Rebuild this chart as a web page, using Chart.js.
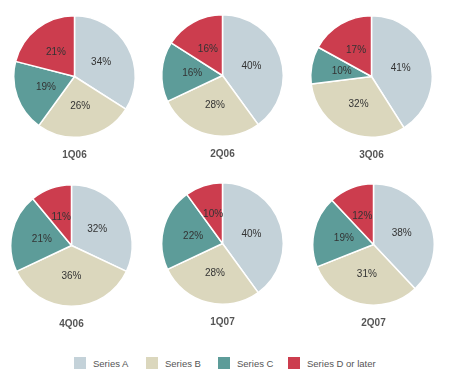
<!DOCTYPE html>
<html>
<head>
<meta charset="utf-8">
<script src="https://cdn.jsdelivr.net/npm/chart.js@4"></script>
<style>
  body { margin: 0; background: #fff; }
  #wrap { position: relative; width: 450px; height: 377px; overflow: hidden; }
  .pie { position: absolute; }
  #legend { position: absolute; left: 0; top: 357px; width: 450px; font: 9.5px "Liberation Sans", Arial, sans-serif; color: #555; }
  .item { position: absolute; top: 0; height: 13px; line-height: 13px; white-space: nowrap; }
  .box { display: inline-block; width: 12px; height: 12px; vertical-align: top; margin-right: 7px; }
</style>
</head>
<body>
<div id="wrap">
  <div id="legend"></div>
</div>
<script>
const quarters = ["1Q06", "2Q06", "3Q06", "4Q06", "1Q07", "2Q07"];
const seriesNames = ["Series A", "Series B", "Series C", "Series D or later"];
const seriesA = [34, 40, 41, 32, 40, 38];
const seriesB = [26, 28, 32, 36, 28, 31];
const seriesC = [19, 16, 10, 21, 22, 19];
const seriesD = [21, 16, 17, 11, 10, 12];
const colors = ["#c4d2d9", "#dbd7bd", "#5d9c99", "#cc3d4e"];

// pie centres in the page
const centres = [[74, 76], [222, 75], [371, 76], [71, 245], [222, 243], [373, 244]];
const legendX = [74, 146, 218, 288];

const pctLabels = {
  id: "pctLabels",
  afterDatasetsDraw(chart) {
    const c = chart.ctx;
    const vals = chart.data.datasets[0].data;
    c.save();
    c.font = "10px 'Liberation Sans', Arial, sans-serif";
    c.fillStyle = "#333";
    c.textAlign = "center";
    c.textBaseline = "middle";
    chart.getDatasetMeta(0).data.forEach((arc, i) => {
      const p = arc.getCenterPoint();
      c.fillText(vals[i] + "%", p.x, p.y);
    });
    c.restore();
  }
};

const wrap = document.getElementById("wrap");
quarters.forEach((q, i) => {
  const cv = document.createElement("canvas");
  cv.className = "pie";
  cv.width = 125;
  cv.height = 148;
  cv.style.left = (centres[i][0] - 62.5) + "px";
  cv.style.top = (centres[i][1] - 62.5) + "px";
  wrap.appendChild(cv);

  new Chart(cv, {
    type: "pie",
    data: {
      labels: seriesNames,
      datasets: [{
        data: [seriesA[i], seriesB[i], seriesC[i], seriesD[i]],
        backgroundColor: colors,
        borderColor: "#fff",
        borderWidth: 1.5
      }]
    },
    options: {
      responsive: false,
      animation: false,
      layout: { padding: 1 },
      plugins: {
        legend: { display: false },
        tooltip: { enabled: false },
        title: {
          display: true,
          text: q,
          position: "bottom",
          color: "#555",
          font: { family: "'Liberation Sans', Arial, sans-serif", size: 10, weight: "bold" },
          padding: { top: 11, bottom: 0 }
        }
      }
    },
    plugins: [pctLabels]
  });
});

const legend = document.getElementById("legend");
seriesNames.forEach((name, i) => {
  const it = document.createElement("div");
  it.className = "item";
  it.style.left = legendX[i] + "px";
  it.innerHTML = '<span class="box" style="background:' + colors[i] + '"></span>' + name;
  legend.appendChild(it);
});
</script>
</body>
</html>
